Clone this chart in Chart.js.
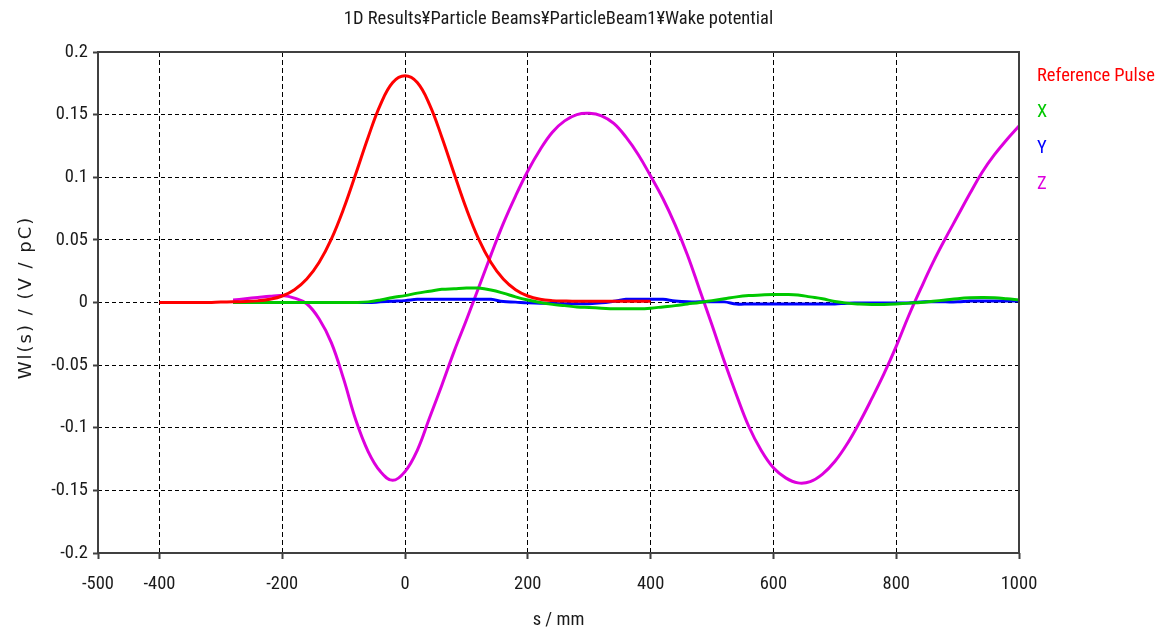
<!DOCTYPE html>
<html>
<head>
<meta charset="utf-8">
<title>Wake potential</title>
<script src="https://cdn.jsdelivr.net/npm/chart.js@4.4.0/dist/chart.umd.min.js"></script>
<style>
    html, body { margin: 0; padding: 0; background: #fff; }
    #wrap { width: 1164px; height: 635px; }
</style>
</head>
<body>
<div id="wrap"><canvas id="chartWake"></canvas></div>
<script>
// s / mm for the reference pulse
const sPulse = [-400, -380, -360, -340, -320, -300, -280, -260, -240, -220, -200, -180, -160, -140, -120, -100, -80, -60, -40, -20,
    0, 20, 40, 60, 80, 100, 120, 140, 160, 180, 200, 220, 240, 260, 280, 300, 320, 340, 360, 380, 400];
const refPulse = [0, 0, 0, 0, 0, 0.0003, 0.0005, 0.0008, 0.0013, 0.0026, 0.0052, 0.0102, 0.0187, 0.0319, 0.0506, 0.0748, 0.103, 0.132, 0.158, 0.1756,
    0.181, 0.1756, 0.158, 0.132, 0.103, 0.0748, 0.0506, 0.0319, 0.0187, 0.0102, 0.0052, 0.0026, 0.0015, 0.0012, 0.001, 0.001, 0.001, 0.001, 0.001, 0.001, 0.001];

// s / mm for the wake potentials
const sWake = [-280, -260, -240, -220, -200, -180, -160, -140, -120, -100, -80, -60, -40, -20,
    0, 20, 40, 60, 80, 100, 120, 140, 160, 180, 200, 220, 240, 260, 280, 300, 320, 340, 360, 380,
    400, 420, 440, 460, 480, 500, 520, 540, 560, 580, 600, 620, 640, 660, 680, 700, 720, 740, 760, 780,
    800, 820, 840, 860, 880, 900, 920, 940, 960, 980, 1000];
const wakeX = [0, 0, 0, 0, 0, 0, 0, 0, 0, 0, 0, 0.0005, 0.002, 0.004,
    0.0055, 0.0075, 0.009, 0.0105, 0.011, 0.0115, 0.0115, 0.010, 0.0075, 0.0045, 0.002, 0, -0.0015, -0.0025, -0.0035, -0.004, -0.0045, -0.005, -0.005, -0.005,
    -0.0045, -0.0035, -0.0025, -0.0012, 0, 0.0015, 0.003, 0.0045, 0.0055, 0.006, 0.0064, 0.0064, 0.006, 0.0045, 0.003, 0.0008, -0.0005, -0.0012, -0.0016, -0.0016,
    -0.0012, -0.0005, 0, 0.001, 0.002, 0.003, 0.0037, 0.004, 0.0038, 0.003, 0.002];
const wakeY = [0, 0, 0, 0, 0, 0, 0, 0, 0, 0, 0, 0, 0.0005, 0.001,
    0.0015, 0.0025, 0.0025, 0.0025, 0.0025, 0.0025, 0.0025, 0.0025, 0.0008, 0.0003, -0.0003, -0.0005, -0.0008, -0.001, -0.001, -0.001, -0.0003, 0.001, 0.0025, 0.0025,
    0.0025, 0.0025, 0.0012, 0.0005, 0.0005, 0.0005, 0.0005, -0.0012, -0.0012, -0.0012, -0.0012, -0.0012, -0.0012, -0.0012, -0.0012, -0.0012, -0.0005, -0.0004, -0.0004, -0.0004,
    -0.0004, -0.0004, 0.0005, 0.0005, 0.0005, 0.0005, 0.0012, 0.0012, 0.0012, 0.0012, 0.0012];
const wakeZ = [0.002, 0.003, 0.004, 0.005, 0.0055, 0.0035, -0.001, -0.013, -0.032, -0.061, -0.094, -0.119, -0.135, -0.142,
    -0.135, -0.118, -0.092, -0.066, -0.039, -0.014, 0.012, 0.038, 0.063, 0.085, 0.105, 0.122, 0.136, 0.145, 0.150, 0.151, 0.149, 0.143, 0.132, 0.118,
    0.101, 0.083, 0.062, 0.038, 0.010, -0.018, -0.047, -0.074, -0.099, -0.118, -0.132, -0.140, -0.144, -0.143, -0.137, -0.127, -0.113, -0.096, -0.077, -0.057,
    -0.035, -0.011, 0.011, 0.032, 0.051, 0.069, 0.087, 0.104, 0.118, 0.130, 0.141];

const xTicks = [-500, -400, -200, 0, 200, 400, 600, 800, 1000];
const seriesLabels = ['Reference Pulse', 'X', 'Y', 'Z'];
const seriesColors = ['#ff0000', '#00c800', '#0000ff', '#dd00dd'];

const narrow = "'Roboto Condensed', 'DejaVu Sans Condensed', sans-serif";
const textColor = '#1a1a1a';

function pairs(xs, ys) {
    return xs.map((x, i) => ({ x: x, y: ys[i] }));
}

// border box, legend text and y axis title
const framePlugin = {
    id: 'frame',
    afterDraw(chart) {
        const ctx = chart.ctx;
        const a = chart.chartArea;
        ctx.save();
        ctx.strokeStyle = '#404040';
        ctx.lineWidth = 2;
        ctx.strokeRect(a.left, a.top, a.right - a.left, a.bottom - a.top);

        ctx.font = '18.5px ' + narrow;
        ctx.textAlign = 'left';
        ctx.textBaseline = 'alphabetic';
        chart.data.datasets.forEach((ds, i) => {
            ctx.fillStyle = ds.borderColor;
            ctx.fillText(ds.label, a.right + 18, 81 + i * 36);
        });

        ctx.translate(26, (a.top + a.bottom) / 2 - 5);
        ctx.rotate(-Math.PI / 2);
        ctx.font = '18px "DejaVu Sans", sans-serif';
        ctx.letterSpacing = '2px';
        ctx.textAlign = 'center';
        ctx.textBaseline = 'middle';
        ctx.fillStyle = textColor;
        ctx.fillText('Wl(s) / (V / pC)', 0, 0);
        ctx.restore();
    }
};

const datasets = [
    { label: seriesLabels[0], data: pairs(sPulse, refPulse) },
    { label: seriesLabels[1], data: pairs(sWake, wakeX) },
    { label: seriesLabels[2], data: pairs(sWake, wakeY) },
    { label: seriesLabels[3], data: pairs(sWake, wakeZ) }
].map((ds, i) => Object.assign(ds, {
    borderColor: seriesColors[i],
    backgroundColor: seriesColors[i],
    borderWidth: 3,
    pointRadius: 0,
    fill: false,
    tension: 0.4
}));

const gridLine = (edge) => (c) => (c.tick && Math.abs(Math.abs(c.tick.value) - edge) < 1e-9) ? 'rgba(0,0,0,0)' : '#000';

new Chart(document.getElementById('chartWake').getContext('2d'), {
    type: 'line',
    data: { datasets: datasets },
    plugins: [framePlugin],
    options: {
        responsive: true,
        maintainAspectRatio: false,
        animation: false,
        layout: { padding: { left: 0, right: 145, top: 0, bottom: 0 } },
        plugins: {
            legend: { display: false },
            tooltip: { enabled: false },
            title: {
                display: true,
                text: '1D Results¥Particle Beams¥ParticleBeam1¥Wake potential',
                fullSize: false,
                color: textColor,
                font: { family: narrow, size: 18.5, weight: 'normal' },
                padding: { top: 8, bottom: 21.8 }
            }
        },
        scales: {
            x: {
                type: 'linear',
                min: -500,
                max: 1000,
                afterBuildTicks: (scale) => { scale.ticks = xTicks.map(v => ({ value: v })); },
                afterFit: (scale) => { scale.height = 82; },
                border: { display: false, dash: [5, 3] },
                grid: {
                    color: (c) => (c.tick && (c.tick.value === -500 || c.tick.value === 1000)) ? 'rgba(0,0,0,0)' : '#000',
                    lineWidth: 1,
                    tickColor: '#404040',
                    tickBorderDash: [],
                    tickLength: 6,
                    tickWidth: 2
                },
                ticks: {
                    color: textColor,
                    font: { family: narrow, size: 18.5 },
                    padding: 14,
                    maxRotation: 0,
                    autoSkip: false,
                    callback: (v) => String(v)
                },
                title: {
                    display: true,
                    text: 's / mm',
                    color: textColor,
                    font: { family: narrow, size: 18.5 },
                    padding: { top: 0, bottom: 4 }
                }
            },
            y: {
                min: -0.2,
                max: 0.2,
                afterFit: (scale) => { scale.width = 98; },
                border: { display: false, dash: [4, 3] },
                grid: {
                    color: gridLine(0.2),
                    lineWidth: 1,
                    tickColor: '#404040',
                    tickBorderDash: [],
                    tickLength: 5,
                    tickWidth: 2
                },
                ticks: {
                    stepSize: 0.05,
                    color: textColor,
                    font: { family: narrow, size: 18.5 },
                    padding: 5,
                    callback: (v) => String(+v.toFixed(2))
                }
            }
        }
    }
});
</script>
</body>
</html>
